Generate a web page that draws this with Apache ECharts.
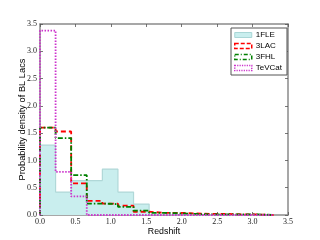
<!DOCTYPE html>
<html><head><meta charset="utf-8">
<script src="https://cdn.jsdelivr.net/npm/echarts@6/dist/echarts.min.js"></script>
<style>html,body{margin:0;padding:0;background:#fff}#c{width:320px;height:240px}</style>
</head><body><div id="c"></div>
<script>
const binEdges = [0,0.22,0.44,0.66,0.88,1.1,1.32,1.54,1.76,1.98,2.2,2.42,2.64,2.86,3.08,3.3];
const fle1 = [1.28,0.42,0.63,0.63,0.84,0.42,0.2,0.01,0,0,0,0,0,0,0];
const lac3 = [1.6,1.53,0.58,0.26,0.21,0.17,0.06,0.04,0.04,0.03,0.02,0.02,0.01,0.01,0];
const fhl3 = [1.6,1.41,0.73,0.21,0.2,0.15,0.08,0.04,0.03,0.02,0.01,0.01,0.01,0.01,0];
const tevcat = [3.38,0.79,0.34,0,0,0,0,0,0,0,0,0,0,0,0];
const seriesNames = ['1FLE','3LAC','3FHL','TeVCat'];

function stepData(vals){
  const pts=[[binEdges[0],0]];
  for(let i=0;i<vals.length;i++) pts.push([binEdges[i],vals[i]]);
  const n=binEdges.length-1;
  pts.push([binEdges[n],vals[vals.length-1]]);
  pts.push([binEdges[n],0]);
  return pts;
}
const serif='"Liberation Serif", serif';
const sans='"Liberation Sans", Arial, sans-serif';
const frame='#8a8a8a';
function axisCommon(show){
  return {
    min:0,max:3.5,interval:0.5,
    nameMoveOverlap:false,
    axisLine:{show:true,onZero:false,lineStyle:{color:frame,width:1.5}},
    axisTick:{show:true,inside:true,length:3,lineStyle:{color:'#555',width:0.8}},
    axisLabel:{show:show,fontFamily:serif,fontSize:8,color:'#222',margin:3,
      formatter:v=>v.toFixed(1)},
    splitLine:{show:false}
  };
}
const chart=echarts.init(document.getElementById('c'),null,{renderer:'canvas'});
chart.setOption({
  animation:false,
  grid:{left:40,right:32,top:24,bottom:25,outerBoundsMode:'none',containLabel:false},
  xAxis:[
    Object.assign(axisCommon(true),{type:'value',position:'bottom',name:'Redshift',nameLocation:'middle',nameGap:12,
      nameTextStyle:{fontFamily:sans,fontSize:8.8,color:'#000'}}),
    Object.assign(axisCommon(false),{type:'value',position:'top'})
  ],
  yAxis:[
    Object.assign(axisCommon(true),{type:'value',position:'left',name:'Probability density of BL Lacs',nameLocation:'middle',nameGap:13,
      nameTextStyle:{fontFamily:sans,fontSize:9.3,color:'#000'}}),
    Object.assign(axisCommon(false),{type:'value',position:'right'})
  ],
  legend:{
    orient:'vertical',left:231,top:28,
    padding:[3,5,3,3],itemGap:3,itemWidth:17,itemHeight:5,
    borderColor:'#555',borderWidth:1,backgroundColor:'#fff',
    textStyle:{fontFamily:sans,fontSize:8,color:'#000',padding:[0,0,0,-1]},
    icon:'rect',
    data:[
      {name:seriesNames[0],itemStyle:{color:'#c9eeee',borderColor:'#a9d6d6',borderWidth:1}},
      {name:seriesNames[1],itemStyle:{color:'rgba(0,0,0,0)',borderColor:'#ff0000',borderWidth:1.5,borderType:[4,2]}},
      {name:seriesNames[2],itemStyle:{color:'rgba(0,0,0,0)',borderColor:'#008000',borderWidth:1.5,borderType:[4,2,1,2]}},
      {name:seriesNames[3],itemStyle:{color:'rgba(0,0,0,0)',borderColor:'#cc33cc',borderWidth:1.5,borderType:[1.2,1.2]}}
    ]
  },
  series:[
    {name:seriesNames[0],type:'line',step:'end',data:stepData(fle1),symbol:'none',
      lineStyle:{color:'#b0d8d8',width:1.2},areaStyle:{color:'#c9eeee',opacity:1},itemStyle:{color:'#c9eeee'},z:1},
    {name:seriesNames[1],type:'line',step:'end',data:stepData(lac3),symbol:'none',
      lineStyle:{color:'#ff0000',width:1.8,type:[5,3]},itemStyle:{color:'#ff0000'},z:2},
    {name:seriesNames[2],type:'line',step:'end',data:stepData(fhl3),symbol:'none',
      lineStyle:{color:'#008000',width:1.8,type:[5,2,1.5,2]},itemStyle:{color:'#008000'},z:3},
    {name:seriesNames[3],type:'line',step:'end',data:stepData(tevcat),symbol:'none',
      lineStyle:{color:'#cc33cc',width:1.8,type:[1.5,1.5]},itemStyle:{color:'#cc33cc'},z:4}
  ]
});
</script></body></html>
